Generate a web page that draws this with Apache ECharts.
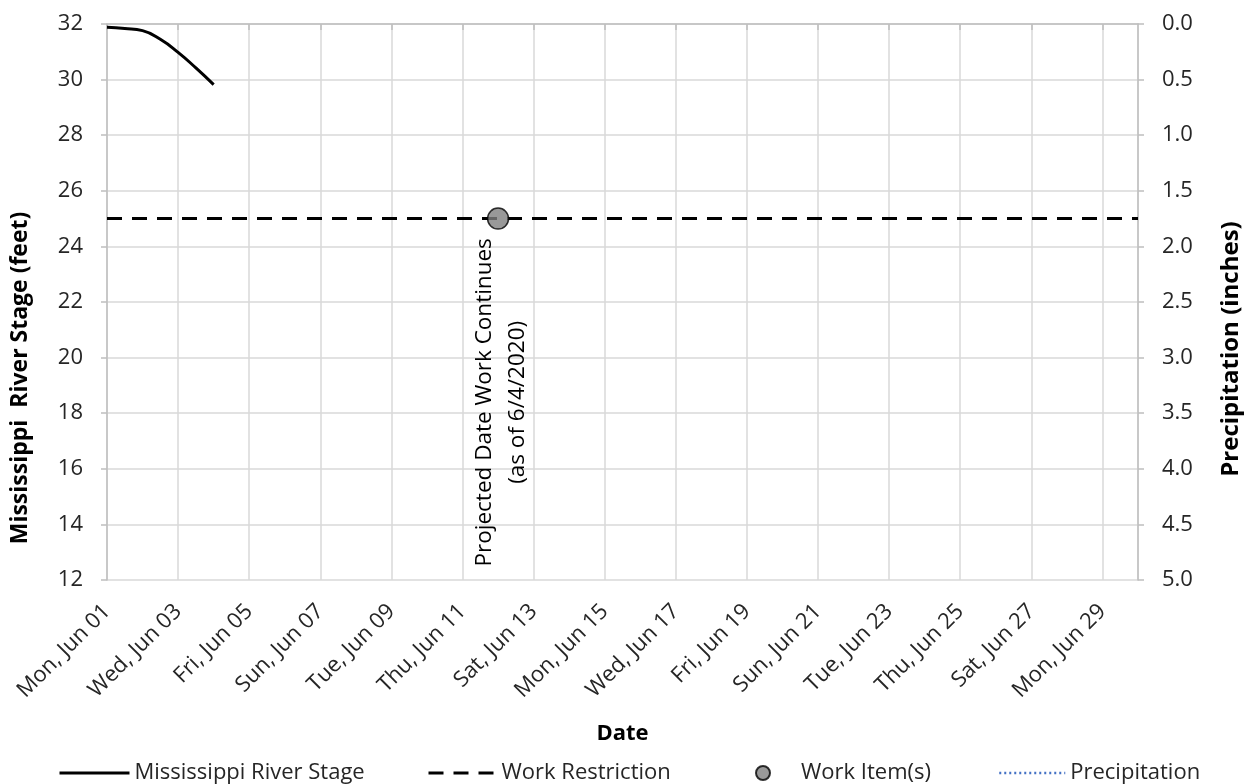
<!DOCTYPE html>
<html>
<head>
<meta charset="utf-8">
<script src="https://cdn.jsdelivr.net/npm/echarts@6/dist/echarts.min.js"></script>
<style>
  html, body { margin: 0; padding: 0; background: #fff; }
  #chart { width: 1249px; height: 784px; }
</style>
</head>
<body>
<div id="chart"></div>
<script>
// ---- Data (x = days since Mon, Jun 01 2020) ----
var tickLabels = ['Mon, Jun 01', 'Wed, Jun 03', 'Fri, Jun 05', 'Sun, Jun 07', 'Tue, Jun 09',
  'Thu, Jun 11', 'Sat, Jun 13', 'Mon, Jun 15', 'Wed, Jun 17', 'Fri, Jun 19', 'Sun, Jun 21',
  'Tue, Jun 23', 'Thu, Jun 25', 'Sat, Jun 27', 'Mon, Jun 29'];
var stageDays = [0, 0.5, 1, 1.5, 2, 2.5, 3];
var stageValues = [31.88, 31.84, 31.76, 31.45, 30.98, 30.42, 29.82];
var restrictionDays = [0, 29];
var restrictionValues = [25, 25];
var workItemDays = [11];
var workItemValues = [25];
var workItemLabel = 'Projected Date Work Continues\n(as of 6/4/2020)';
var precipDays = [];
var precipValues = [];

function pairs(xs, ys) { return xs.map(function (x, i) { return [x, ys[i]]; }); }

var FONT = '"Open Sans", "Noto Sans", sans-serif';
var TXT = '#262626';
var FS = 22;
var chart = echarts.init(document.getElementById('chart'), null, { renderer: 'canvas' });

var hiddenSymbol = { color: 'rgba(0,0,0,0)', borderColor: 'rgba(0,0,0,0)', borderWidth: 0, opacity: 0 };
var legendBase = {
  top: 757, itemHeight: 14, textStyle: { fontFamily: FONT, fontSize: FS, color: TXT },
  selectedMode: false
};

var option = {
  animation: false,
  backgroundColor: '#ffffff',
  textStyle: { fontFamily: FONT },
  grid: { left: 107, right: 111, top: 24, bottom: 204 },
  xAxis: {
    type: 'value', min: 0, max: 29, interval: 2,
    name: 'Date', nameLocation: 'middle', nameGap: 143,
    nameTextStyle: { fontFamily: FONT, fontSize: FS, fontWeight: 'bold', color: '#000' },
    axisLine: { show: true, lineStyle: { color: '#bfbfbf', width: 1.5 } },
    axisTick: { show: true, length: 6, lineStyle: { color: '#bfbfbf', width: 1.5 } },
    axisLabel: {
      rotate: 45, margin: 28, fontFamily: FONT, fontSize: FS, color: TXT,
      showMaxLabel: false,
      formatter: function (v) { return (v % 2 === 0) ? (tickLabels[v / 2] || '') : ''; }
    },
    splitLine: { show: true, lineStyle: { color: '#d9d9d9', width: 1.5 } }
  },
  yAxis: [{
    type: 'value', min: 12, max: 32, interval: 2, position: 'left',
    axisLine: { show: true, lineStyle: { color: '#bfbfbf', width: 1.5 } },
    axisTick: { show: true, length: 6, lineStyle: { color: '#bfbfbf', width: 1.5 } },
    axisLabel: { fontFamily: FONT, fontSize: FS, color: TXT, margin: 24 },
    splitLine: { show: true, lineStyle: { color: '#d9d9d9', width: 1.5 } }
  }, {
    type: 'value', min: 0, max: 5, interval: 0.5, position: 'right', inverse: true,
    axisLine: { show: true, lineStyle: { color: '#bfbfbf', width: 1.5 } },
    axisTick: { show: true, length: 6, lineStyle: { color: '#bfbfbf', width: 1.5 } },
    axisLabel: { fontFamily: FONT, fontSize: FS, color: TXT, margin: 24,
      formatter: function (v) { return v.toFixed(1); } },
    splitLine: { show: false }
  }],
  legend: [
    Object.assign({}, legendBase, { left: 53, itemWidth: 70, itemStyle: hiddenSymbol,
      lineStyle: { width: 3 }, data: ['Mississippi River Stage'] }),
    Object.assign({}, legendBase, { left: 422, itemWidth: 68, itemStyle: hiddenSymbol,
      lineStyle: { width: 3 }, data: ['Work Restriction'] }),
    Object.assign({}, legendBase, { left: 750, itemWidth: 14, itemHeight: 14,
      textStyle: { fontFamily: FONT, fontSize: FS, color: TXT, padding: [0, 0, 0, 26] }, data: ['Work Item(s)'] }),
    Object.assign({}, legendBase, { left: 993, itemWidth: 66, itemStyle: hiddenSymbol,
      lineStyle: { width: 2.5 }, data: ['Precipitation'] })
  ],
  graphic: [
    { type: 'text', x: 20, y: 378, rotation: Math.PI / 2,
      style: { text: 'Mississippi  River Stage (feet)', font: 'bold 23px ' + FONT, fill: '#000',
        align: 'center', verticalAlign: 'middle' } },
    { type: 'text', x: 1231, y: 349, rotation: Math.PI / 2,
      style: { text: 'Precipitation (inches)', font: 'bold 24px ' + FONT, fill: '#000',
        align: 'center', verticalAlign: 'middle' } }
  ],
  series: [{
    name: 'Mississippi River Stage', type: 'line', yAxisIndex: 0,
    data: pairs(stageDays, stageValues), smooth: true, symbol: 'none',
    lineStyle: { color: '#000', width: 3 }, itemStyle: { color: '#000' }, z: 5
  }, {
    name: 'Work Restriction', type: 'line', yAxisIndex: 0,
    data: pairs(restrictionDays, restrictionValues), symbol: 'none',
    lineStyle: { color: '#000', width: 3, type: [15, 10] }, itemStyle: { color: '#000' }, z: 4
  }, {
    name: 'Work Item(s)', type: 'scatter', yAxisIndex: 0,
    data: pairs(workItemDays, workItemValues), symbol: 'circle', symbolSize: 21,
    itemStyle: { color: '#808080', borderColor: '#000', borderWidth: 1.5 }, z: 6,
    label: {
      show: true, formatter: workItemLabel, position: [14, 195], rotate: 90,
      align: 'center', verticalAlign: 'middle', fontFamily: FONT, fontSize: 22.5,
      lineHeight: 33, color: '#000', opacity: 1, textBorderWidth: 0
    }
  }, {
    name: 'Precipitation', type: 'line', yAxisIndex: 1,
    data: pairs(precipDays, precipValues), symbol: 'none',
    lineStyle: { color: '#4472c4', width: 2, type: [2, 3] }, itemStyle: { color: '#4472c4' }
  }]
};
chart.setOption(option);
</script>
</body>
</html>
